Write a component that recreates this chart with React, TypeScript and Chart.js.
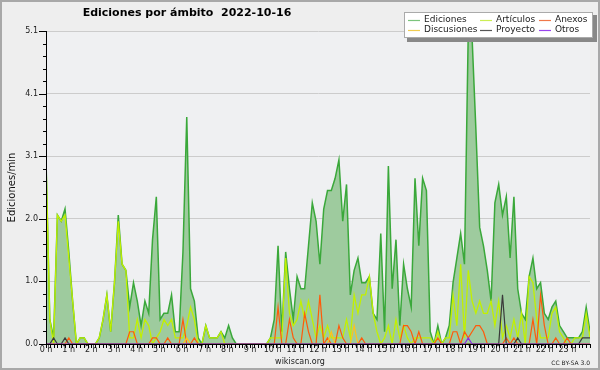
import React, { useEffect, useRef } from "react";
import { Chart, registerables } from "chart.js";

Chart.register(...registerables);

const TITLE = "Ediciones por ámbito  2022-10-16";
const Y_TITLE = "Ediciones/min";
const SITE = "wikiscan.org";
const LICENSE = "CC BY-SA 3.0";
const HOUR_LABELS = [
  "0 h", "1 h", "2 h", "3 h", "4 h", "5 h", "6 h", "7 h", "8 h", "9 h", "10 h", "11 h",
  "12 h", "13 h", "14 h", "15 h", "16 h", "17 h", "18 h", "19 h", "20 h", "21 h", "22 h", "23 h",
];
const Y_TICKS = [0, 1.02, 2.04, 3.06, 4.08, 5.1];
const Y_MAX = 5.1;
const SLOT_COUNT = 144; // 10-minute slots

// one row per hour (six 10-minute slots)
const EDICIONES = [
  3.0, 0.4, 0.1, 2.1, 2.0, 2.2,
  1.5, 0.7, 0, 0.1, 0.1, 0,
  0, 0, 0.1, 0.4, 0.8, 0.2,
  1.0, 2.1, 1.3, 1.2, 0.6, 1.0,
  0.7, 0.3, 0.7, 0.5, 1.7, 2.4,
  0.4, 0.5, 0.5, 0.8, 0.2, 0.2,
  1.5, 3.7, 0.9, 0.7, 0.1, 0,
  0.3, 0.1, 0.1, 0.1, 0.2, 0.1,
  0.3, 0.1, 0, 0, 0, 0,
  0, 0, 0, 0, 0, 0.1,
  0.4, 1.6, 0.2, 1.5, 0.9, 0.4,
  1.1, 0.9, 0.9, 1.6, 2.3, 2.0,
  1.3, 2.2, 2.5, 2.5, 2.7, 3.0,
  2.0, 2.6, 0.8, 1.2, 1.4, 1.0,
  1.0, 1.1, 0.5, 0.4, 1.8, 0.2,
  2.9, 0.9, 1.7, 0.3, 1.3, 0.9,
  0.6, 2.7, 1.6, 2.7, 2.5, 0.2,
  0, 0.3, 0, 0.1, 0.3, 1.0,
  1.4, 1.8, 1.3, 5.1, 5.0, 3.5,
  1.9, 1.6, 1.2, 0.7, 2.3, 2.6,
  2.1, 2.4, 1.4, 2.4, 0.9, 0.5,
  0.4, 1.1, 1.4, 0.9, 1.0, 0.5,
  0.4, 0.6, 0.7, 0.3, 0.2, 0.1,
  0.1, 0.1, 0.1, 0.2, 0.6, 0.2,
];

const ARTICULOS = [
  3.0, 0.4, 0, 2.1, 2.0, 2.1,
  1.4, 0.7, 0, 0.1, 0.1, 0,
  0, 0, 0.1, 0.4, 0.8, 0.2,
  1.0, 2.0, 1.3, 1.2, 0.1, 0.1,
  0.4, 0.1, 0.4, 0.3, 0, 0.1,
  0.2, 0.4, 0.3, 0.4, 0.1, 0.1,
  0.1, 0.3, 0.6, 0.4, 0, 0,
  0.3, 0.1, 0.1, 0.1, 0.2, 0,
  0, 0, 0, 0, 0, 0,
  0, 0, 0, 0, 0, 0.1,
  0.1, 0.1, 0.1, 1.4, 0.5, 0.3,
  0.4, 0.7, 0.4, 0.7, 0.4, 0.1,
  0.3, 0.1, 0.3, 0.1, 0.1, 0.1,
  0.1, 0.4, 0.1, 0.8, 0.5, 0.8,
  0.8, 1.1, 0.5, 0.2, 0, 0.1,
  0.3, 0, 0.4, 0.1, 0.3, 0.1,
  0, 0.1, 0.1, 0.1, 0.1, 0.1,
  0, 0.2, 0, 0.1, 0.1, 0.8,
  0.3, 1.3, 0.1, 1.2, 0.7, 0.5,
  0.7, 0.5, 0.5, 0.7, 0.3, 0.7,
  0.1, 0.3, 0.1, 0.4, 0.1, 0.5,
  0, 1.1, 1.0, 0.4, 0.1, 0.1,
  0.1, 0.5, 0.6, 0.2, 0.1, 0,
  0, 0.1, 0.1, 0.1, 0.5, 0.1,
];

const ANEXOS = [
  0, 0, 0, 0, 0, 0,
  0.1, 0, 0, 0, 0, 0,
  0, 0, 0, 0, 0, 0,
  0, 0, 0, 0, 0.2, 0.2,
  0, 0, 0, 0, 0.1, 0.1,
  0, 0, 0.1, 0, 0, 0,
  0.4, 0, 0, 0.1, 0, 0,
  0, 0, 0, 0, 0, 0,
  0, 0, 0, 0, 0, 0,
  0, 0, 0, 0, 0, 0,
  0, 0.6, 0, 0, 0.4, 0.1,
  0, 0, 0.5, 0.2, 0, 0,
  0.8, 0, 0.1, 0, 0, 0.3,
  0.1, 0, 0, 0, 0, 0.1,
  0, 0, 0, 0, 0, 0,
  0, 0, 0, 0, 0.3, 0.3,
  0.2, 0, 0.2, 0, 0, 0,
  0, 0.1, 0, 0, 0, 0.2,
  0.2, 0, 0.2, 0.1, 0.2, 0.3,
  0.3, 0.2, 0, 0, 0, 0,
  0, 0.1, 0, 0.1, 0, 0,
  0, 0, 0.4, 0, 0.8, 0.3,
  0, 0, 0.1, 0, 0, 0.1,
  0, 0, 0, 0, 0, 0,
];

const DISCUSIONES = [
  0, 0, 0, 0, 0, 0,
  0, 0, 0, 0, 0, 0,
  0, 0, 0, 0, 0, 0,
  0, 0, 0, 0, 0, 0,
  0, 0, 0, 0, 0, 0,
  0, 0, 0, 0, 0, 0,
  0, 0.1, 0, 0, 0, 0,
  0, 0, 0, 0, 0, 0,
  0, 0, 0, 0, 0, 0,
  0, 0, 0, 0, 0, 0,
  0, 0, 0, 0, 0, 0,
  0, 0, 0, 0, 0, 0,
  0, 0, 0, 0.2, 0, 0,
  0, 0, 0, 0.3, 0, 0,
  0, 0, 0, 0, 0, 0,
  0, 0, 0, 0, 0, 0,
  0, 0, 0, 0, 0, 0,
  0, 0, 0, 0, 0, 0,
  0, 0, 0, 0, 0, 0,
  0, 0, 0, 0, 0, 0,
  0, 0, 0, 0, 0, 0,
  0, 0, 0, 0, 0, 0,
  0, 0, 0, 0, 0, 0,
  0, 0, 0, 0, 0, 0,
];

const PROYECTO = [
  0, 0, 0.1, 0, 0, 0.1,
  0, 0, 0, 0, 0, 0,
  0, 0, 0, 0, 0, 0,
  0, 0, 0, 0, 0, 0,
  0, 0, 0, 0, 0, 0,
  0, 0, 0, 0, 0, 0,
  0, 0, 0, 0, 0, 0,
  0, 0, 0, 0, 0, 0,
  0, 0, 0, 0, 0, 0,
  0, 0, 0, 0, 0, 0,
  0, 0, 0, 0, 0, 0,
  0, 0, 0, 0, 0, 0,
  0, 0, 0, 0, 0, 0,
  0, 0, 0, 0, 0, 0,
  0, 0, 0, 0, 0, 0,
  0, 0, 0, 0, 0, 0,
  0, 0, 0, 0, 0, 0,
  0, 0, 0, 0, 0, 0,
  0, 0, 0, 0, 0, 0,
  0, 0, 0, 0, 0, 0,
  0.8, 0, 0, 0, 0.1, 0,
  0, 0, 0, 0, 0, 0,
  0, 0, 0, 0, 0, 0,
  0, 0, 0, 0.1, 0.1, 0.1,
];

const OTROS = [
  0, 0, 0, 0, 0, 0,
  0, 0, 0, 0, 0, 0,
  0, 0, 0, 0, 0, 0,
  0, 0, 0, 0, 0, 0,
  0, 0, 0, 0, 0, 0,
  0, 0, 0, 0, 0, 0,
  0, 0, 0, 0, 0, 0,
  0, 0, 0, 0, 0, 0,
  0, 0, 0, 0, 0, 0,
  0, 0, 0, 0, 0, 0,
  0, 0, 0, 0, 0, 0,
  0, 0, 0, 0, 0, 0,
  0, 0, 0, 0, 0, 0,
  0, 0, 0, 0, 0, 0,
  0, 0, 0, 0, 0, 0,
  0, 0, 0, 0, 0, 0,
  0, 0, 0, 0, 0, 0,
  0, 0, 0, 0, 0, 0,
  0, 0, 0, 0.1, 0, 0,
  0, 0, 0, 0, 0, 0,
  0, 0, 0, 0, 0, 0,
  0, 0, 0, 0, 0, 0,
  0, 0, 0, 0, 0, 0,
  0, 0, 0, 0, 0, 0,
];

const SERIES = [
  { label: "Ediciones", values: EDICIONES, color: "#3aa83a", swatch: "#7cc47c", fill: "#9ecb9e", width: 1.5 },
  { label: "Artículos", values: ARTICULOS, color: "#c2f000", swatch: "#ccee55", fill: null, width: 1.3 },
  { label: "Anexos", values: ANEXOS, color: "#ff5a0a", swatch: "#f0784a", fill: null, width: 1.2 },
  { label: "Discusiones", values: DISCUSIONES, color: "#ffc21a", swatch: "#f0cc50", fill: null, width: 1.2 },
  { label: "Proyecto", values: PROYECTO, color: "#3a3a3a", swatch: "#555555", fill: null, width: 1.2 },
  { label: "Otros", values: OTROS, color: "#8a2be2", swatch: "#9944ee", fill: null, width: 1.2 },
];

const FONT = '"DejaVu Sans", Verdana, sans-serif';

const decorPlugin = {
  id: "decor",
  beforeDraw(chart: any) {
    const { ctx, chartArea: a, width, height } = chart;
    ctx.save();
    ctx.fillStyle = "#eeeeee";
    ctx.fillRect(0, 0, width, height);
    ctx.fillStyle = "#eff0f2";
    ctx.fillRect(a.left, a.top, a.right - a.left, a.bottom - a.top);
    ctx.restore();
  },
  afterDraw(chart: any) {
    const { ctx, chartArea: a, width, height } = chart;
    const xs = chart.scales.x;
    const ys = chart.scales.y;
    ctx.save();
    // tick marks
    ctx.strokeStyle = "#000";
    ctx.lineWidth = 1;
    ctx.beginPath();
    for (let k = 0; k <= SLOT_COUNT; k++) {
      const px = Math.round(xs.getPixelForValue((k * (SLOT_COUNT - 1)) / SLOT_COUNT)) + 0.5;
      ctx.moveTo(px, a.bottom);
      ctx.lineTo(px, a.bottom + 4);
    }
    for (let t = 0; t < Y_TICKS.length; t++) {
      const py = Math.round(ys.getPixelForValue(Y_TICKS[t])) + 0.5;
      ctx.moveTo(a.left - 7, py);
      ctx.lineTo(a.left, py);
      if (t < Y_TICKS.length - 1) {
        for (let m = 1; m < 5; m++) {
          const v = Y_TICKS[t] + ((Y_TICKS[t + 1] - Y_TICKS[t]) * m) / 5;
          const pm = Math.round(ys.getPixelForValue(v)) + 0.5;
          ctx.moveTo(a.left - 3, pm);
          ctx.lineTo(a.left, pm);
        }
      }
    }
    ctx.stroke();

    // title
    ctx.fillStyle = "#000";
    ctx.font = `bold 11px ${FONT}`;
    ctx.textAlign = "center";
    ctx.textBaseline = "middle";
    ctx.fillText(TITLE, 187, 13);

    // credits
    ctx.font = `8px ${FONT}`;
    ctx.fillStyle = "#222";
    ctx.fillText(SITE, 300, 362);
    ctx.font = `6px ${FONT}`;
    ctx.textAlign = "right";
    ctx.fillText(LICENSE, 590, 363);

    // legend
    const bx = 404, by = 12, bw = 189, bh = 26;
    ctx.fillStyle = "#888888";
    ctx.fillRect(bx + 3, by + 3, bw + 1, bh + 1);
    ctx.fillStyle = "#ffffff";
    ctx.fillRect(bx, by, bw, bh);
    ctx.strokeStyle = "#aaaaaa";
    ctx.strokeRect(bx + 0.5, by + 0.5, bw - 1, bh - 1);
    const colX = [408, 480, 539];
    const rowY = [19.5, 29.5];
    ctx.font = `9px ${FONT}`;
    ctx.textAlign = "left";
    ctx.textBaseline = "middle";
    chart.data.datasets.forEach((ds: any, i: number) => {
      const cx = colX[i % 3];
      const cy = rowY[Math.floor(i / 3)];
      ctx.strokeStyle = ds.swatchColor;
      ctx.lineWidth = 1.2;
      ctx.beginPath();
      ctx.moveTo(cx, Math.round(cy) + 0.5);
      ctx.lineTo(cx + 12, Math.round(cy) + 0.5);
      ctx.stroke();
      ctx.fillStyle = "#222";
      ctx.fillText(ds.label, cx + 16, cy);
    });

    // frame
    ctx.strokeStyle = "#a8a8a8";
    ctx.lineWidth = 2;
    ctx.strokeRect(1, 1, width - 2, height - 2);
    ctx.restore();
  },
};

export default function App() {
  const ref = useRef<HTMLCanvasElement | null>(null);

  useEffect(() => {
    document.body.style.margin = "0";
    const canvas = ref.current;
    if (!canvas) return;
    const datasets = SERIES.map((s, idx) => ({
      label: s.label,
      data: s.values.map((v, i) => ({ x: i, y: v })),
      borderColor: s.color,
      backgroundColor: s.fill || s.color,
      swatchColor: s.swatch,
      borderWidth: s.width,
      fill: s.fill ? "origin" : false,
      pointRadius: 0,
      tension: 0,
      order: SERIES.length - idx,
    }));
    const chart = new Chart(canvas, {
      type: "line",
      data: { datasets } as any,
      options: {
        responsive: false,
        animation: false,
        devicePixelRatio: 1,
        layout: { padding: { left: 0, right: 10, top: 31, bottom: 0 } },
        plugins: {
          legend: { display: false },
          tooltip: { enabled: false },
          title: { display: false },
        },
        scales: {
          x: {
            type: "linear",
            min: 0,
            max: SLOT_COUNT - 1,
            afterBuildTicks: (scale: any) => {
              scale.ticks = HOUR_LABELS.map((_, h) => ({ value: (h * (SLOT_COUNT - 1)) / 24 }));
            },
            afterFit: (scale: any) => {
              scale.height = 26;
            },
            ticks: {
              autoSkip: false,
              maxRotation: 0,
              padding: 1,
              color: "#222",
              font: { family: FONT, size: 8 },
              callback: (_v: any, index: number) => HOUR_LABELS[index],
            },
            grid: { drawOnChartArea: false, drawTicks: false },
            border: { display: true, color: "#000", width: 1, z: 1 },
          },
          y: {
            type: "linear",
            min: 0,
            max: Y_MAX,
            afterBuildTicks: (scale: any) => {
              scale.ticks = Y_TICKS.map((v) => ({ value: v }));
            },
            afterFit: (scale: any) => {
              scale.width = 46;
            },
            ticks: {
              padding: 8,
              color: "#222",
              font: { family: FONT, size: 8 },
              callback: (v: any) => Number(v).toFixed(1),
            },
            grid: { color: "#cccccc", lineWidth: 1, drawTicks: false },
            border: { display: true, color: "#000", width: 1, z: 1 },
            title: {
              display: true,
              text: Y_TITLE,
              color: "#111",
              font: { family: FONT, size: 10 },
              padding: { top: 6, bottom: 0 },
            },
          },
        },
      } as any,
      plugins: [decorPlugin],
    });
    return () => chart.destroy();
  }, []);

  return (
    <div style={{ position: "absolute", left: 0, top: 0, width: 600, height: 370 }}>
      <canvas ref={ref} width={600} height={370} style={{ display: "block" }} />
    </div>
  );
}
